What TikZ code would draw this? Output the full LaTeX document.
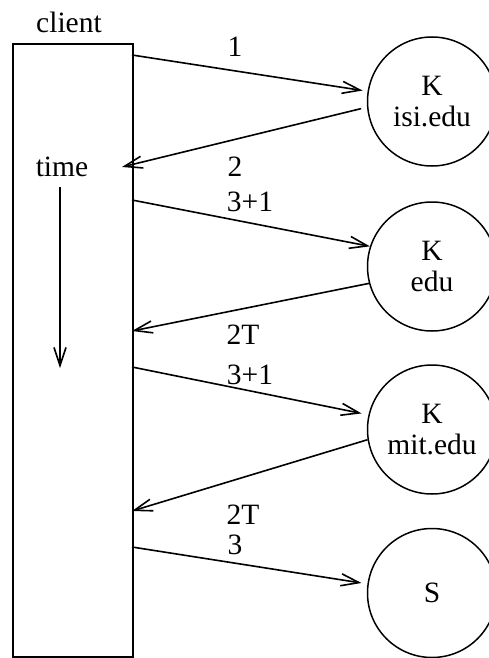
\documentclass[tikz,border=0pt]{standalone}
\usepackage{fontspec}
\setmainfont{Liberation Serif}
\usetikzlibrary{arrows.meta}
\begin{document}
\begin{tikzpicture}[x=1pt,y=-1pt,
  every node/.style={font=\fontsize{29.5}{31}\selectfont, inner sep=0pt},
  ln/.style={line width=1.6pt},
  arr/.style={ln, -{Straight Barb[length=18pt,width=12pt,line width=1.6pt]}},
  srv/.style={draw, circle, line width=1.5pt, minimum size=129pt, align=center},
  lbl/.style={anchor=center}]
\useasboundingbox (0,0) rectangle (489,658);
% client box
\node[draw, ln, minimum width=120pt, minimum height=613pt, anchor=north west] (cl) at (12,43) {};
\node[lbl] (clt) at (69,22) {client};
\node[lbl] (tm) at (62,167) {time};
\coordinate (ts) at (60,187);
\coordinate (te) at (60,368);
\draw[arr] (ts) -- (te);
% servers
\node[srv] (k1) at (432,101.5) {K\\isi.edu};
\node[srv] (k2) at (432,266.5) {K\\edu};
\node[srv] (k3) at (432,429.5) {K\\mit.edu};
\node[srv] (s)  at (432,593) {S};
% points on client box edge
\coordinate (a1) at (132,55);
\coordinate (b1) at (122,167);
\coordinate (a2) at (132,200);
\coordinate (b2) at (132,331);
\coordinate (a3) at (132,367);
\coordinate (b3) at (132,511);
\coordinate (a4) at (132,547);
% messages
\draw[arr, shorten >=5pt] (a1) -- (k1.171);
\draw[arr, shorten <=6pt] (k1.185) -- (b1);
\draw[arr] (a2) -- (k2.162);
\draw[arr] (k2.195) -- (b2);
\draw[arr, shorten >=7pt] (a3) -- (k3.167);
\draw[arr] (k3.189) -- (b3);
\draw[arr, shorten >=6pt] (a4) -- (s.172);
% labels
\node[lbl] (l1) at (235,47) {1};
\node[lbl] (l2) at (235,167) {2};
\node[lbl] (l3) at (250,202) {3+1};
\node[lbl] (l4) at (243,335) {2T};
\node[lbl] (l5) at (250,375) {3+1};
\node[lbl] (l6) at (243,515) {2T};
\node[lbl] (l7) at (235,545) {3};
\end{tikzpicture}
\end{document}
